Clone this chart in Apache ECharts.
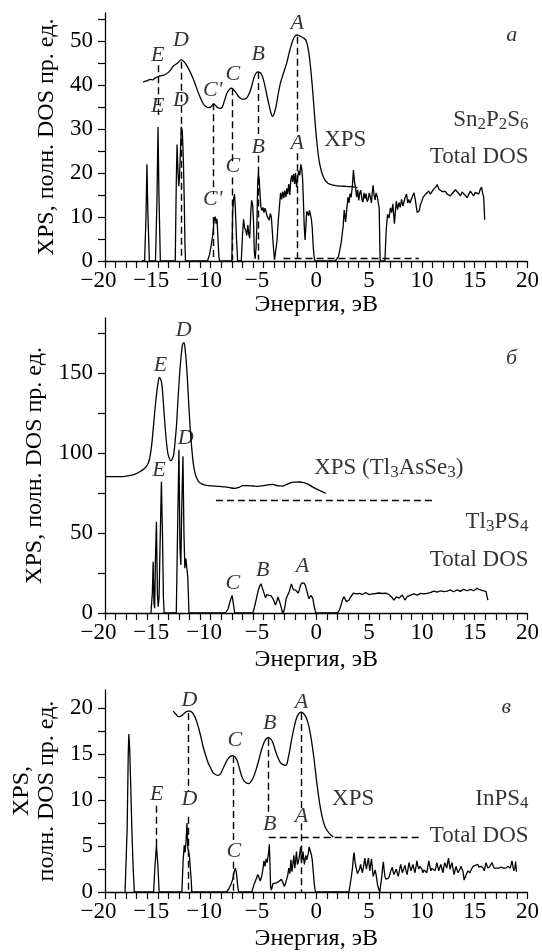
<!DOCTYPE html>
<html><head><meta charset="utf-8">
<script src="https://cdn.jsdelivr.net/npm/echarts@6/dist/echarts.min.js"></script>
<style>html,body{margin:0;padding:0;background:#fff}#c{width:542px;height:952px}</style>
</head><body><div id="c"></div>
<script>
// ---------- tick / label values ----------
const energyTicks = [];
for (let v = -20; v <= 20; v++) energyTicks.push(v);
const energyLabels = [-20, -15, -10, -5, 0, 5, 10, 15, 20];
const yTicksA = [0,5,10,15,20,25,30,35,40,45,50,55];
const yLabelsA = [0,10,20,30,40,50];
const yTicksB = [0,25,50,75,100,125,150,175];
const yLabelsB = [0,50,100,150];
const yTicksC = [0,2.5,5,7.5,10,12.5,15,17.5,20];
const yLabelsC = [0,5,10,15,20];

// ---------- panel a: Sn2P2S6 ----------
const xpsA = [[-16.4,40.7],[-16.0,41.0],[-15.7,41.3],[-15.5,41.2],[-15.25,41.6],[-15.0,41.9],[-14.8,42.1],[-14.5,42.2],[-14.3,42.4],[-14.0,42.9],[-13.75,43.6],[-13.5,44.4],[-13.25,44.8],[-13.0,45.3],[-12.77,45.8],[-12.55,45.4],[-12.3,44.6],[-12.0,43.3],[-11.75,42.0],[-11.5,40.5],[-11.25,38.8],[-11.0,37.3],[-10.75,36.0],[-10.5,35.2],[-10.25,34.9],[-10.0,35.0],[-9.85,35.4],[-9.72,35.7],[-9.55,35.4],[-9.35,34.9],[-9.1,34.7],[-8.9,35.0],[-8.7,36.4],[-8.45,38.2],[-8.2,39.1],[-8.05,39.3],[-7.85,39.0],[-7.6,38.3],[-7.35,37.4],[-7.1,36.9],[-6.85,36.8],[-6.6,37.0],[-6.4,37.8],[-6.2,39.0],[-6.0,40.8],[-5.8,42.3],[-5.55,43.0],[-5.3,42.8],[-5.1,42.0],[-4.9,40.3],[-4.7,38.0],[-4.5,35.8],[-4.3,33.8],[-4.15,32.9],[-4.0,33.4],[-3.8,35.2],[-3.6,38.0],[-3.4,40.4],[-3.2,42.0],[-3.0,43.5],[-2.8,45.0],[-2.6,47.0],[-2.4,48.8],[-2.2,50.3],[-2.0,51.2],[-1.8,51.4],[-1.6,51.2],[-1.4,51.0],[-1.2,50.7],[-1.0,50.3],[-0.85,49.2],[-0.7,47.3],[-0.55,44.3],[-0.4,40.5],[-0.25,36.0],[-0.1,31.2],[0.05,27.3],[0.2,24.0],[0.35,21.8],[0.55,19.9],[0.8,18.5],[1.1,17.7],[1.5,17.3],[2.0,17.1],[2.6,17.0],[3.2,16.9],[3.9,16.7]];
const dosA = [[-16.5,0],[-16.25,0],[-16.12,10],[-16.03,22],[-15.94,11],[-15.8,0],
[-15.22,0],[-15.08,14],[-14.98,30.5],[-14.9,16],[-14.76,0],
[-13.35,0],[-13.25,18],[-13.18,26.5],[-13.1,21],[-13.02,17],[-12.95,19],[-12.87,24],[-12.78,30.5],[-12.68,29.5],[-12.58,23],[-12.5,14],[-12.43,4],[-12.38,0],
[-10.3,0],[-10.1,1.5],[-9.95,3.5],[-9.8,5.8],[-9.68,9],[-9.56,10.1],[-9.48,8.5],[-9.4,9.6],[-9.3,5],[-9.22,1],[-9.15,0],
[-7.99,0],[-7.92,11],[-7.82,14.2],[-7.74,15.2],[-7.66,12],[-7.55,5],[-7.44,0],
[-7.1,0],[-6.98,6],[-6.88,9.5],[-6.78,7.5],[-6.68,7],[-6.58,5.8],[-6.48,8.2],[-6.38,6],[-6.3,5.2],[-6.2,11],[-6.12,13.8],[-6.02,12.8],[-5.94,9],[-5.86,2],[-5.78,0.5],[-5.7,3],[-5.62,8],[-5.55,17],[-5.48,20],[-5.4,18.5],[-5.32,15],[-5.24,12.3],[-5.15,11.5],[-5.05,12.2],[-4.95,11],[-4.85,12],[-4.75,11.2],[-4.65,10.2],[-4.55,10.6],[-4.45,9.3],[-4.35,10.8],[-4.25,10],[-4.15,6.4],[-4.05,3],[-3.95,0.3],
[-3.85,0],[-3.72,4.5],[-3.6,9],[-3.48,12.5],[-3.38,15.5],[-3.28,14],[-3.18,15.8],[-3.08,14.3],[-2.98,16],[-2.88,14.5],[-2.78,16.5],[-2.7,15.2],[-2.6,17.5],[-2.5,15],[-2.42,18.2],[-2.32,19.5],[-2.24,18],[-2.14,19.8],[-2.04,17.5],[-1.96,20],[-1.86,16.8],[-1.76,19],[-1.66,20.5],[-1.56,19.5],[-1.46,22],[-1.38,21],[-1.3,19],[-1.22,14],[-1.14,8],[-1.06,4.8],[-0.98,8],[-0.9,11.3],[-0.8,11.6],[-0.72,10.3],[-0.64,11.5],[-0.55,11.2],[-0.46,9.5],[-0.38,7.5],[-0.28,3],[-0.18,0.5],[-0.1,0],
[1.8,0],[2.1,1],[2.35,4],[2.55,8],[2.65,11.6],[2.78,8.9],[2.9,12],[3.0,14.5],[3.1,13.2],[3.2,15.3],[3.3,14.5],[3.42,17],[3.52,20.7],[3.62,18],[3.72,16.8],[3.82,14.5],[3.92,16.2],[4.02,13.8],[4.12,15.5],[4.22,16.1],[4.32,14],[4.42,13.4],[4.52,15.5],[4.62,14.2],[4.72,15.3],[4.82,13.5],[4.92,14],[5.02,15.5],[5.12,14.6],[5.22,13.2],[5.3,15.5],[5.38,17.2],[5.48,15],[5.57,13.9],[5.67,15.5],[5.78,14.6],[5.88,14.8],[5.96,12],[6.0,6],[6.05,0],[6.5,0],[6.62,7],[6.75,10.6],[6.9,9.8],[7.02,12.1],[7.14,11],[7.25,13],[7.4,8.5],[7.5,11.5],[7.58,13.6],[7.7,11.7],[7.83,13.3],[7.95,12.2],[8.08,14],[8.2,12.5],[8.3,12.9],[8.42,14.5],[8.55,15.2],[8.66,13.2],[8.77,14],[8.88,13.2],[9.0,13.6],[9.12,14.8],[9.25,15.5],[9.36,14.2],[9.47,12.4],[9.56,11],[9.66,10.6],[9.76,11.5],[9.87,12.9],[9.98,13.5],[10.1,14.4],[10.22,14.8],[10.35,15.2],[10.5,15.6],[10.66,15.9],[10.8,15.2],[10.97,15.5],[11.1,16.3],[11.2,16.1],[11.3,16.8],[11.45,17.4],[11.6,16.4],[11.76,16.3],[11.9,15.8],[12.08,15.5],[12.24,15.8],[12.4,15.2],[12.55,15.6],[12.7,14.8],[12.86,15.3],[13.02,15.5],[13.18,16.2],[13.33,15.9],[13.5,15.3],[13.65,14.8],[13.8,15.7],[13.96,15.5],[14.12,14.9],[14.28,14.4],[14.44,15.2],[14.6,15.9],[14.75,15.3],[14.9,14.8],[15.06,15.6],[15.22,15.9],[15.38,15.2],[15.53,16.3],[15.65,16.8],[15.75,15.5],[15.85,14.6],[15.9,12],[15.95,9.4]];

// ---------- panel б: Tl3PS4 ----------
const xpsB = [[-20,85.2],[-19,85.2],[-18.3,85.3],[-17.6,86],[-17.1,87],[-16.7,88.3],[-16.35,89.8],[-16.1,91.5],[-15.9,93.8],[-15.75,97.5],[-15.6,104],[-15.45,114],[-15.3,125],[-15.15,135],[-15.0,143],[-14.85,147.3],[-14.72,146],[-14.6,142],[-14.48,132],[-14.35,120],[-14.2,108],[-14.05,100],[-13.9,96.5],[-13.78,95.2],[-13.65,96],[-13.5,99],[-13.38,106],[-13.24,116.5],[-13.1,132],[-12.95,148],[-12.8,160],[-12.65,168],[-12.52,169],[-12.4,164],[-12.25,152],[-12.1,134],[-11.95,117],[-11.8,104],[-11.65,94],[-11.5,88],[-11.3,84],[-11.1,81.8],[-10.8,80.6],[-10.4,79.8],[-9.8,79.4],[-9.2,79.1],[-8.6,78.8],[-8.1,78.2],[-7.74,77.9],[-7.3,78.6],[-6.95,79.6],[-6.5,79.6],[-6.0,79.4],[-5.5,79.2],[-5.06,79.6],[-4.6,80.1],[-4.12,80.4],[-3.7,79.6],[-3.2,79.3],[-2.8,80.4],[-2.4,81.5],[-2.0,81.8],[-1.6,81.9],[-1.2,81.5],[-0.8,80.6],[-0.4,79.0],[0.0,77.6],[0.4,76.3],[0.9,74.8]];
const dosB = [[-15.65,0],[-15.52,12],[-15.44,32],[-15.36,6],[-15.3,3],[-15.22,35],[-15.13,57],[-15.04,12],[-14.96,4],[-14.88,10],[-14.78,45],[-14.66,82],[-14.56,50],[-14.47,10],[-14.4,0],
[-13.25,0],[-13.12,55],[-13.0,102],[-12.9,40],[-12.82,30],[-12.72,70],[-12.62,98],[-12.52,48],[-12.44,28],[-12.34,34],[-12.25,33],[-12.16,22],[-12.05,0],
[-8.6,0],[-8.35,2.5],[-8.15,7.5],[-7.97,11],[-7.85,6],[-7.72,0],
[-6.0,0],[-5.8,5],[-5.65,9.5],[-5.5,14],[-5.35,17],[-5.23,18.3],[-5.12,16],[-5.0,13.5],[-4.88,11],[-4.8,9.5],[-4.7,11.5],[-4.6,10.5],[-4.5,11],[-4.42,10],[-4.3,10.8],[-4.2,11.5],[-4.1,9],[-3.98,7],[-3.86,5],[-3.75,7],[-3.62,10],[-3.52,8],[-3.42,6],[-3.3,3],[-3.18,0],[-3.05,1.5],[-2.95,4.5],[-2.85,9],[-2.75,10.5],[-2.65,11.5],[-2.55,13.5],[-2.45,16],[-2.35,18.2],[-2.25,16],[-2.15,14.5],[-2.05,15],[-1.95,14.3],[-1.85,13.5],[-1.72,12.4],[-1.6,14.5],[-1.48,17.5],[-1.35,18.8],[-1.23,19.4],[-1.12,18.5],[-1.02,17],[-0.9,14],[-0.8,11.5],[-0.7,9],[-0.6,8.5],[-0.5,11],[-0.4,12.2],[-0.32,9],[-0.22,5],[-0.1,1.5],[-0.03,0],
[2.0,0],[2.2,2],[2.35,5],[2.5,8.5],[2.64,10.2],[2.75,8.5],[2.86,7.1],[2.98,8.3],[3.1,8.1],[3.25,10],[3.4,11.2],[3.53,12.5],[3.66,13.3],[3.78,12],[3.9,11.2],[4.05,12.2],[4.2,12.7],[4.36,11.6],[4.53,11.9],[4.68,12.8],[4.84,12.3],[5.0,11.5],[5.16,11.2],[5.3,12],[5.47,12.7],[5.63,12.2],[5.8,11.9],[5.95,12.5],[6.1,12.7],[6.26,12.2],[6.42,13.3],[6.58,12.4],[6.73,11.2],[6.9,11.5],[7.05,10.6],[7.2,9.5],[7.36,8.1],[7.48,9.2],[7.6,10.2],[7.72,9.6],[7.83,9.2],[8.0,10.3],[8.15,11.2],[8.28,9.5],[8.4,8.1],[8.5,9],[8.6,10.2],[8.77,10.8],[8.94,11.2],[9.1,11.6],[9.25,11.9],[9.4,11.3],[9.57,11.2],[9.72,11.8],[9.88,12.3],[10.04,11.7],[10.2,11.9],[10.35,12.4],[10.5,12.3],[10.65,12],[10.8,12.7],[10.97,13.2],[11.13,13.7],[11.3,13],[11.45,13.1],[11.6,13.6],[11.76,13.9],[11.92,13.4],[12.08,13.3],[12.24,13.9],[12.4,13.7],[12.55,14.1],[12.7,14.4],[12.85,13.6],[13.0,13.3],[13.16,14],[13.33,14.4],[13.5,13.8],[13.65,13.5],[13.8,14.2],[13.96,14.8],[14.12,14.2],[14.28,13.9],[14.44,14.5],[14.6,14.8],[14.75,14.3],[14.9,13.9],[15.06,14.6],[15.22,15.4],[15.38,14.8],[15.53,14.4],[15.7,14.1],[15.85,13.9],[15.97,13.6],[16.07,13.3],[16.15,11],[16.25,8.1]];

// ---------- panel в: InPS4 ----------
const xpsC = [[-13.55,19.7],[-13.4,19.5],[-13.24,19.3],[-13.08,19.1],[-12.93,19.1],[-12.75,19.2],[-12.55,19.4],[-12.35,19.6],[-12.14,19.7],[-11.95,19.7],[-11.8,19.6],[-11.65,19.4],[-11.5,19.1],[-11.3,18.5],[-11.1,17.7],[-10.9,16.8],[-10.73,15.9],[-10.5,15.0],[-10.25,14.1],[-10.0,13.5],[-9.78,13.0],[-9.55,12.8],[-9.31,12.7],[-9.05,12.9],[-8.84,13.4],[-8.6,14.0],[-8.36,14.5],[-8.1,14.8],[-7.9,14.85],[-7.7,14.7],[-7.52,14.4],[-7.3,13.6],[-7.11,12.8],[-6.9,12.2],[-6.64,11.9],[-6.4,11.8],[-6.2,12.0],[-5.95,12.5],[-5.7,13.3],[-5.5,14.1],[-5.3,15.0],[-5.1,15.8],[-4.9,16.4],[-4.7,16.75],[-4.5,16.8],[-4.3,16.65],[-4.12,16.3],[-3.9,15.5],[-3.65,14.7],[-3.4,14.1],[-3.18,13.9],[-2.95,13.8],[-2.8,13.9],[-2.65,14.6],[-2.5,15.5],[-2.3,16.8],[-2.08,18.0],[-1.88,18.9],[-1.67,19.4],[-1.45,19.6],[-1.25,19.5],[-1.0,19.1],[-0.8,18.5],[-0.62,17.6],[-0.4,16.1],[-0.2,14.4],[0.0,12.4],[0.2,10.6],[0.4,9.1],[0.6,8.0],[0.8,7.2],[1.04,6.7],[1.3,6.3],[1.6,6.0]];
const dosC = [[-18.1,0],[-17.9,7],[-17.8,15],[-17.74,17.2],[-17.66,15.5],[-17.55,11],[-17.45,6.5],[-17.33,2.5],[-17.22,0],
[-15.4,0],[-15.26,3],[-15.13,5.1],[-15.0,3],[-14.87,0],
[-12.72,0],[-12.6,3.5],[-12.5,5.1],[-12.42,4.3],[-12.33,5.5],[-12.24,7.5],[-12.16,4.8],[-12.08,4.4],[-12.0,3.8],[-11.92,4],[-11.85,1.5],[-11.78,0],
[-8.5,0],[-8.25,0.4],[-8.05,0.9],[-7.9,1.4],[-7.78,2.2],[-7.65,2.6],[-7.55,2.0],[-7.45,0.8],[-7.35,0],
[-6.1,0],[-5.9,0.8],[-5.7,1.4],[-5.53,1.9],[-5.4,1.5],[-5.3,1.2],[-5.15,1.8],[-5.05,2.5],[-4.95,3.4],[-4.85,2.8],[-4.75,3.6],[-4.65,3.2],[-4.52,4.2],[-4.44,5.2],[-4.38,3],[-4.32,0.5],[-4.25,0.2],[-4.1,0.9],[-3.95,0.8],[-3.8,1.0],[-3.6,1.1],[-3.45,1.3],[-3.3,1.4],[-3.15,1.0],[-3.02,0.6],[-2.92,0.9],[-2.8,1.4],[-2.7,1.8],[-2.6,2.6],[-2.5,2.0],[-2.4,3.5],[-2.3,2.2],[-2.2,3.2],[-2.12,4.0],[-2.03,2.6],[-1.95,3.5],[-1.87,4.4],[-1.78,3.0],[-1.7,3.3],[-1.62,3.7],[-1.55,4.3],[-1.48,4.9],[-1.4,3.3],[-1.32,3.8],[-1.25,4.4],[-1.18,3.5],[-1.12,3.0],[-1.05,3.6],[-0.98,4.0],[-0.9,3.5],[-0.82,3.3],[-0.75,4.2],[-0.68,4.9],[-0.6,4.6],[-0.52,4.4],[-0.45,4.0],[-0.38,3.5],[-0.28,2.2],[-0.18,0.8],[-0.08,0],
[3.1,0],[3.3,1.5],[3.43,2.6],[3.52,3.8],[3.58,4.3],[3.68,3.2],[3.8,2.5],[3.9,2.0],[4.0,1.8],[4.1,2.5],[4.2,3.0],[4.3,2.4],[4.37,2.1],[4.48,2.8],[4.6,3.7],[4.68,3.0],[4.75,2.5],[4.85,3.2],[4.94,3.7],[5.0,3.0],[5.07,2.3],[5.15,3.0],[5.23,3.6],[5.3,2.7],[5.39,1.7],[5.48,2.0],[5.57,2.4],[5.68,1.8],[5.8,0.8],[5.92,0.3],[6.02,0],[6.1,0.8],[6.2,1.6],[6.28,2.6],[6.35,3.3],[6.42,2.5],[6.5,1.7],[6.6,1.4],[6.73,1.2],[6.84,1.5],[6.94,1.8],[7.06,2.3],[7.2,2.7],[7.28,2.2],[7.36,1.9],[7.47,2.2],[7.58,2.5],[7.68,2.0],[7.77,1.7],[7.88,2.4],[8.0,3.0],[8.08,2.5],[8.15,2.1],[8.28,2.5],[8.4,2.9],[8.5,2.3],[8.6,1.9],[8.7,2.6],[8.78,3.2],[8.88,2.7],[8.97,2.3],[9.07,2.7],[9.16,3.0],[9.25,2.5],[9.35,2.1],[9.45,2.8],[9.53,3.4],[9.62,2.8],[9.72,2.5],[9.81,2.8],[9.9,3.0],[10.0,2.5],[10.1,2.1],[10.2,2.4],[10.3,2.6],[10.38,2.3],[10.47,2.1],[10.56,2.8],[10.66,3.4],[10.75,2.8],[10.85,2.3],[10.95,2.6],[11.04,2.8],[11.13,2.5],[11.23,2.3],[11.33,2.7],[11.42,3.2],[11.5,2.8],[11.6,2.3],[11.7,2.7],[11.8,3.0],[11.9,2.5],[12.0,2.1],[12.08,2.7],[12.17,3.2],[12.26,2.9],[12.36,2.6],[12.44,3.2],[12.52,3.7],[12.6,3.0],[12.67,2.5],[12.76,2.9],[12.86,3.2],[12.95,2.5],[13.05,1.9],[13.15,2.4],[13.24,2.8],[13.33,2.4],[13.43,2.1],[13.52,2.3],[13.6,2.5],[13.7,2.8],[13.8,3.0],[13.9,2.2],[14.0,1.3],[14.1,1.6],[14.2,1.9],[14.28,2.1],[14.37,2.3],[14.46,2.2],[14.56,2.1],[14.65,2.4],[14.75,2.6],[14.85,2.8],[14.94,3.0],[15.04,2.9],[15.13,2.8],[15.22,2.9],[15.3,3.0],[15.4,2.7],[15.5,2.5],[15.6,2.8],[15.7,3.0],[15.8,2.6],[15.9,2.3],[16.0,2.8],[16.07,3.2],[16.16,2.9],[16.25,2.6],[16.35,2.7],[16.45,2.8],[16.55,3.0],[16.64,3.2],[16.74,2.9],[16.83,2.6],[16.92,2.7],[17.0,2.8],[17.1,2.6],[17.2,2.5],[17.3,2.6],[17.4,2.6],[17.5,2.7],[17.6,2.8],[17.7,2.6],[17.8,2.5],[17.88,2.6],[17.96,2.6],[18.05,2.7],[18.15,2.8],[18.25,2.7],[18.35,2.6],[18.45,3.0],[18.53,3.4],[18.62,2.8],[18.7,2.3],[18.8,2.6],[18.88,3.3],[18.95,2.2]];

// ---------- peak markers: [energy, from, to] ----------
const dashVA = [[-14.97,44.5,33.2],[-12.77,45.3,0.5],[-9.72,35.9,15.2],[-9.72,10,0.3],[-7.99,39.3,22.5],[-7.99,19,0.3],[-5.53,43,28.5],[-5.53,24,0.3],[-1.76,51,28.5],[-1.76,24.5,0.6]];
const dashHA = [[-3.1,9.7,0.6]];
const dashHB = [[-9.5,11.1,70.6]];
const dashVC = [[-15.16,9.4,5.0],[-12.14,19.5,11],[-12.14,8.2,0],[-7.83,14.8,5.3],[-7.83,3.3,0],[-4.5,16.7,8.3],[-1.45,19.5,9.0],[-1.45,7.5,0]];
const dashHC = [[-4.5,9.8,6.0]];

// ---------- text annotations: [text, x, y, align, italic] ----------
const textA = [['E',-15,46.8],['D',-12.8,50.2],["C'",-9.8,38.9],['C',-7.9,42.5],['B',-5.5,47],['A',-1.8,54],
 ['E',-15,35.2],['D',-12.8,36.6],["C'",-9.8,14.1],['C',-7.9,21.6],['B',-5.5,25.9],['A',-1.8,26.8],
 ['a',18.5,51.4],
 ['XPS',0.75,27.5,'left',false],['Sn{s|2}P{s|2}S{s|6}',20.1,32,'right',false],['Total DOS',20.1,23.6,'right',false]];
const textB = [['E',-14.75,155],['D',-12.55,177],['D',-12.36,109],['E',-14.9,89.4],['C',-7.9,18.6],['B',-5.07,26.9],['A',-1.3,29],
 ['б',18.5,159],
 ['XPS (Tl{s|3}AsSe{s|3})',-0.2,90.6,'left',false],['Tl{s|3}PS{s|4}',20.1,57,'right',false],['Total DOS',20.1,33,'right',false]];
const textC = [['D',-12,20.9],['C',-7.7,16.5],['B',-4.4,18.4],['A',-1.4,20.7],['E',-15.1,10.6],['D',-12,10.1],['C',-7.8,4.4],['B',-4.4,7.4],['A',-1.4,8.2],
 ['в',18,20.1],
 ['XPS',1.5,10.1,'left',false],['InPS{s|4}',20.1,10.1,'right',false],['Total DOS',20.1,6.1,'right',false]];

// ---------- building ----------
const FONT = 'Liberation Serif';
const BLACK = '#000';
// negative labels: the minus hangs to the left so the digits stay centred on the tick
const fmtNum = v => v < 0 ? '{neg|\u2212' + Math.abs(v) + '}' : String(v);

function xAxisFor(gi, nameGap) {
  return {
    type: 'value', gridIndex: gi, min: -20, max: 20,
    name: 'Энергия, эВ', nameLocation: 'middle', nameGap: nameGap,
    nameTextStyle: {fontFamily: FONT, fontSize: 24, color: BLACK},
    axisLine: {show: true, onZero: false, lineStyle: {color: BLACK, width: 1.3}},
    axisTick: {show: true, inside: false, length: 7, customValues: energyTicks, lineStyle: {color: BLACK, width: 1.2}},
    axisLabel: {customValues: energyLabels, formatter: fmtNum, fontFamily: FONT, fontSize: 23, color: BLACK, margin: 8,
      rich: {neg: {fontFamily: FONT, fontSize: 23, color: BLACK, padding: [0, 13, 0, 0]}}},
    splitLine: {show: false}
  };
}
function yAxisFor(gi, max, ticks, labels, name, gap) {
  return {
    type: 'value', gridIndex: gi, min: 0, max: max,
    name: name, nameLocation: 'middle', nameGap: gap, nameRotate: 90,
    nameTextStyle: {fontFamily: FONT, fontSize: 24, color: BLACK, lineHeight: 25},
    axisLine: {show: true, onZero: false, lineStyle: {color: BLACK, width: 1.3}},
    axisTick: {show: true, inside: false, length: 7, customValues: ticks, lineStyle: {color: BLACK, width: 1.2}},
    axisLabel: {customValues: labels, fontFamily: FONT, fontSize: 23, color: BLACK, margin: 12},
    splitLine: {show: false}
  };
}
const dashStyle = {type: [7, 4], color: BLACK, width: 1.4};
function markLines(vert, horiz) {
  const d = [];
  vert.forEach(s => d.push([{coord: [s[0], s[1]]}, {coord: [s[0], s[2]]}]));
  horiz.forEach(s => d.push([{coord: [s[0], s[2]]}, {coord: [s[1], s[2]]}]));
  return {silent: true, symbol: ['none', 'none'], label: {show: false}, lineStyle: dashStyle, emphasis: {disabled: true}, data: d, animation: false};
}
function lineSeries(gi, data, smooth, ml) {
  const s = {type: 'line', xAxisIndex: gi, yAxisIndex: gi, data: data, showSymbol: false, symbol: 'none',
    smooth: smooth, lineStyle: {color: BLACK, width: 1.3}, silent: true, z: 3};
  if (ml) s.markLine = ml;
  return s;
}
function textSeries(gi, items) {
  return {
    type: 'scatter', xAxisIndex: gi, yAxisIndex: gi, symbolSize: 0, silent: true, z: 5, clip: false,
    data: items.map(t => {
      const italic = t[4] === undefined ? true : t[4];
      return {
        value: [t[1], t[2]],
        label: {
          show: true, position: [0, 0], formatter: t[0],
          align: t[3] || 'center', verticalAlign: 'middle',
          fontFamily: FONT, fontSize: italic ? 22 : 23, fontStyle: italic ? 'italic' : 'normal',
          color: BLACK, lineHeight: 26,
          rich: {s: {fontFamily: FONT, fontSize: 17, color: BLACK, lineHeight: 10, verticalAlign: 'bottom'}}
        }
      };
    })
  };
}

const option = {
  backgroundColor: '#fff',
  animation: false,
  grid: [
    {left: 105, right: 13, top: 13, height: 248},
    {left: 105, right: 13, top: 318, height: 295},
    {left: 105, right: 13, top: 690, height: 204}
  ],
  xAxis: [xAxisFor(0, 27), xAxisFor(1, 35), xAxisFor(2, 35)],
  yAxis: [
    yAxisFor(0, 56.4, yTicksA, yLabelsA, 'XPS, полн. DOS пр. ед.', 46),
    yAxisFor(1, 184.4, yTicksB, yLabelsB, 'XPS, полн. DOS пр. ед.', 53),
    yAxisFor(2, 22, yTicksC, yLabelsC, 'XPS,\nполн. DOS пр. ед.', 45)
  ],
  series: [
    lineSeries(0, xpsA, 0.3),
    lineSeries(0, dosA, false, markLines(dashVA, dashHA)),
    textSeries(0, textA),
    lineSeries(1, xpsB, 0.3),
    lineSeries(1, dosB, false, markLines([], dashHB)),
    textSeries(1, textB),
    lineSeries(2, xpsC, 0.3),
    lineSeries(2, dosC, false, markLines(dashVC, dashHC)),
    textSeries(2, textC)
  ]
};
const chart = echarts.init(document.getElementById('c'), null, {renderer: 'canvas'});
chart.setOption(option);
</script></body></html>
